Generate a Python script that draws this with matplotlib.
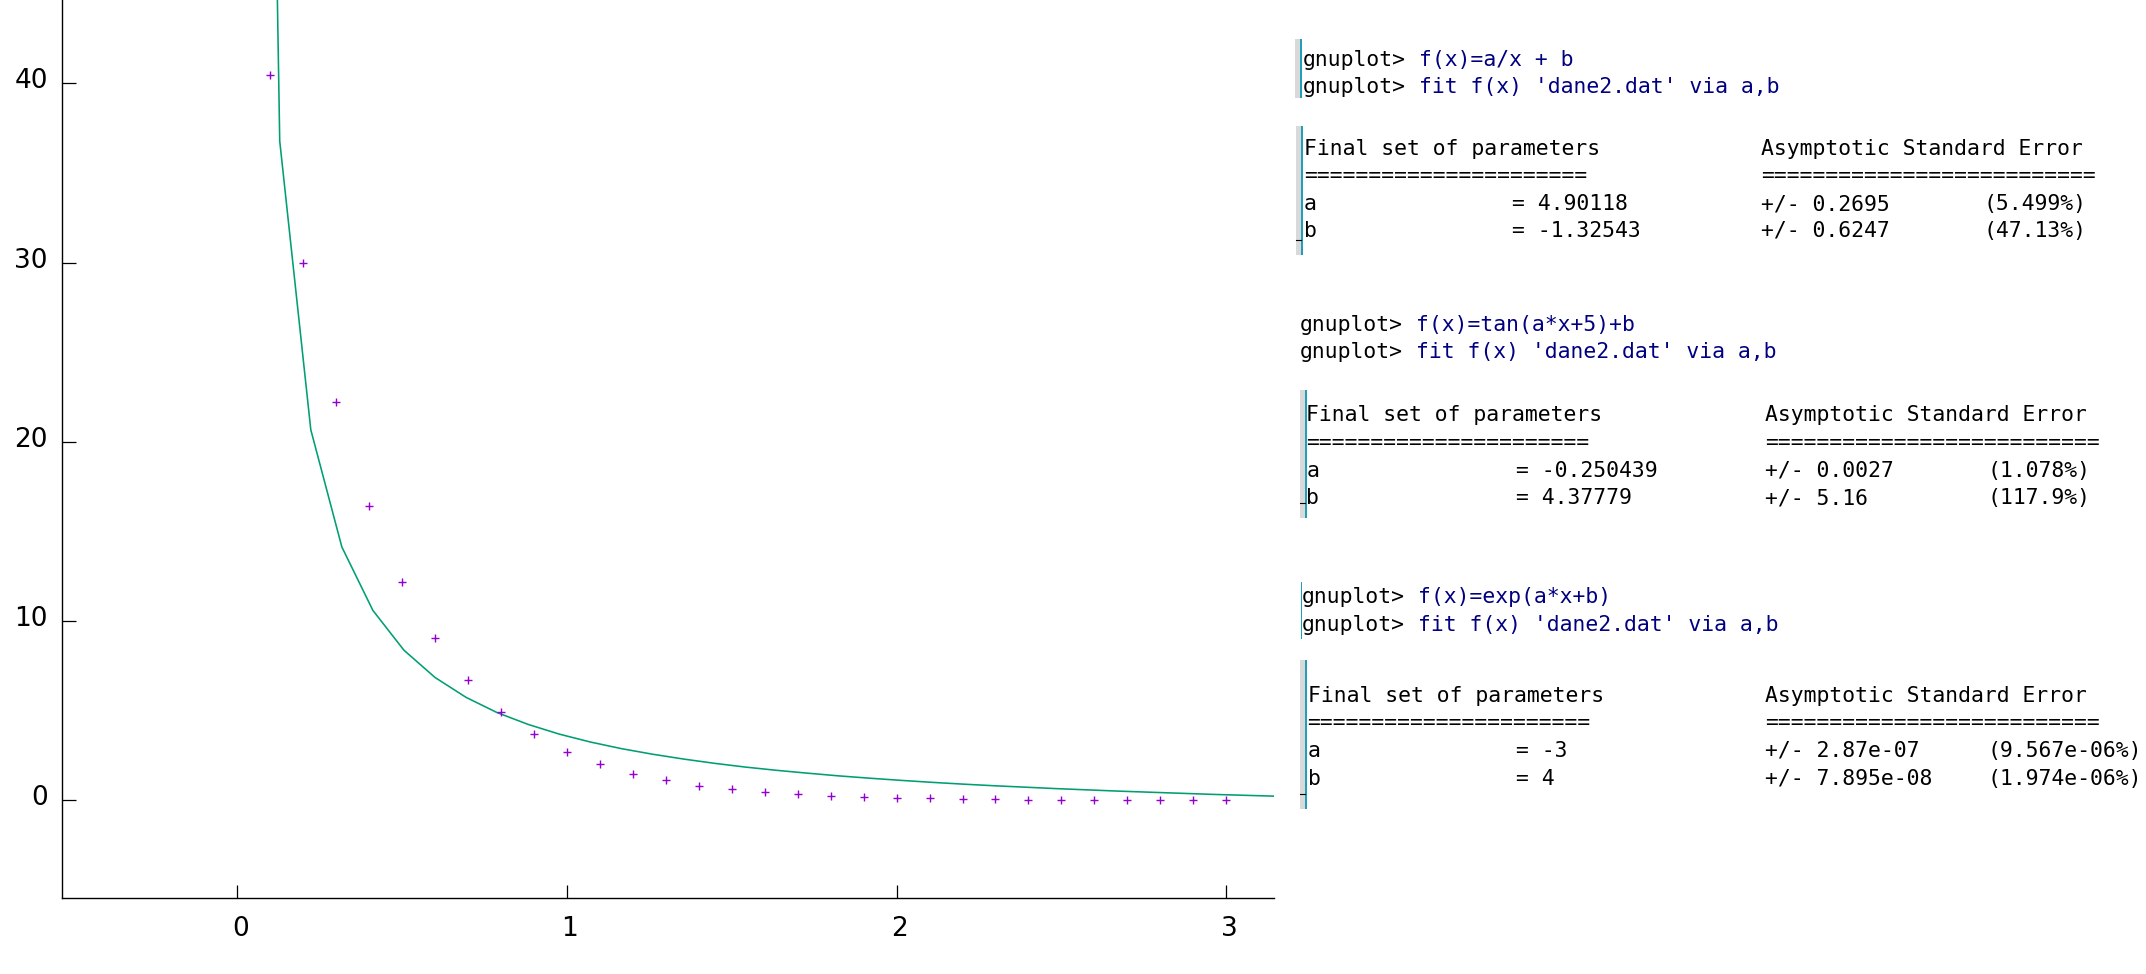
import matplotlib
matplotlib.use("Agg")
import matplotlib.pyplot as plt
from matplotlib.patches import Rectangle
import matplotlib.transforms as mtransforms

# ---------------- data ----------------
data_x = [0.1, 0.2, 0.3, 0.4, 0.5, 0.6, 0.7, 0.8, 0.9, 1.0,
          1.1, 1.2, 1.3, 1.4, 1.5, 1.6, 1.7, 1.8, 1.9, 2.0,
          2.1, 2.2, 2.3, 2.4, 2.5, 2.6, 2.7, 2.8, 2.9, 3.0]
data_y = [40.45, 29.96, 22.20, 16.44, 12.18, 9.03, 6.69, 4.95, 3.67, 2.72,
          2.01, 1.49, 1.11, 0.82, 0.61, 0.45, 0.33, 0.25, 0.18, 0.14,
          0.10, 0.07, 0.06, 0.04, 0.03, 0.02, 0.02, 0.01, 0.01, 0.01]

# sampled fit curve f(x)=a/x+b as drawn (piecewise linear)
fit_x = [0.0344, 0.1286, 0.2229, 0.3171, 0.4113, 0.5055, 0.5998, 0.6940,
         0.7882, 0.8825, 0.9767, 1.0709, 1.1652, 1.2594, 1.3536, 1.4478,
         1.5421, 1.6363, 1.7305, 1.8248, 1.9190, 2.0132, 2.1075, 2.2017,
         2.2959, 2.3901, 2.4844, 2.5786, 2.6728, 2.7671, 2.8613, 2.9555,
         3.0498, 3.1440]
fit_y = [141.19, 36.78, 20.67, 14.13, 10.59, 8.37, 6.85, 5.74,
         4.89, 4.23, 3.69, 3.25, 2.88, 2.57, 2.30, 2.06,
         1.85, 1.67, 1.51, 1.36, 1.23, 1.11, 1.00, 0.90,
         0.81, 0.73, 0.65, 0.58, 0.51, 0.45, 0.39, 0.33,
         0.28, 0.23]

x_ticks = [0, 1, 2, 3]
y_ticks = [0, 10, 20, 30, 40]

# text blocks shown on the right
blocks = [
    {"cmds": ["f(x)=a/x + b", "fit f(x) 'dane2.dat' via a,b"],
     "rows": [("a", "= 4.90118", "+/- 0.2695", "(5.499%)"),
              ("b", "= -1.32543", "+/- 0.6247", "(47.13%)")]},
    {"cmds": ["f(x)=tan(a*x+5)+b", "fit f(x) 'dane2.dat' via a,b"],
     "rows": [("a", "= -0.250439", "+/- 0.0027", "(1.078%)"),
              ("b", "= 4.37779", "+/- 5.16", "(117.9%)")]},
    {"cmds": ["f(x)=exp(a*x+b)", "fit f(x) 'dane2.dat' via a,b"],
     "rows": [("a", "= -3", "+/- 2.87e-07", "(9.567e-06%)"),
              ("b", "= 4", "+/- 7.895e-08", "(1.974e-06%)")]},
]

# ---------------- layout ----------------
W, H = 2146, 974
DPI = 100
fig = plt.figure(figsize=(W / DPI, H / DPI), dpi=DPI)
fig.patch.set_facecolor("white")

ax_l, ax_r, ax_b, ax_t = 62.3, 1273.7, 898.3, 0.0
ax = fig.add_axes([ax_l / W, 1 - ax_b / H, (ax_r - ax_l) / W, (ax_b - ax_t) / H])
ax.set_xlim(-0.531, 3.144)
ax.set_ylim(-5.47, 44.65)

ax.plot(fit_x, fit_y, color="#009e73", lw=1.15, zorder=2)
ax.plot(data_x, data_y, linestyle="none", marker="+", ms=6, mew=1.0,
        color="#9400d3", zorder=3)

for s in ("top", "right"):
    ax.spines[s].set_visible(False)
for s in ("left", "bottom"):
    ax.spines[s].set_linewidth(1.0)
    ax.spines[s].set_color("black")

ax.set_xticks(x_ticks)
ax.set_yticks(y_ticks)
ax.set_xticklabels([str(v) for v in x_ticks])
ax.set_yticklabels([str(v) for v in y_ticks])
ax.tick_params(axis="y", direction="in", length=10, width=0.9, pad=10.5,
               labelsize=19)
ax.tick_params(axis="x", direction="in", length=9.5, width=0.9, pad=12.5,
               labelsize=19)
for lab in ax.get_yticklabels():
    lab.set_transform(lab.get_transform() +
                      mtransforms.ScaledTranslation(0, 5 / DPI, fig.dpi_scale_trans))
for lab in ax.get_xticklabels():
    lab.set_transform(lab.get_transform() +
                      mtransforms.ScaledTranslation(3 / DPI, 0, fig.dpi_scale_trans))

# ---------------- text panel ----------------
MONO = "DejaVu Sans Mono"
FS = 15.4
NAVY = "#000080"
TEAL = "#1f9fb8"
GRAY = "#d9d9d9"


def ptext(x, y, s, color="black"):
    fig.text(x / W, 1 - y / H, s, fontsize=FS, family=MONO, color=color,
             ha="left", va="baseline")


def bar(x, y0, y1, gray=True, w_teal=2.2):
    if gray:
        fig.add_artist(Rectangle(((x - 5) / W, 1 - y1 / H), 5 / W, (y1 - y0) / H,
                                 transform=fig.transFigure, facecolor=GRAY,
                                 edgecolor="none"))
    fig.add_artist(Rectangle((x / W, 1 - y1 / H), w_teal / W, (y1 - y0) / H,
                             transform=fig.transFigure, facecolor=TEAL,
                             edgecolor="none"))


# geometry for each block (pixel positions)
geo = [
    {"cx": 1303, "cy": [66, 93], "ox": 1304, "hy": 155, "ey": 182, "ry": [210, 237],
     "cols": [1512, 1761, 1984], "cbar": (1300, 39, 98, True),
     "obar": (1301, 126, 255)},
    {"cx": 1300, "cy": [331, 358], "ox": 1306.5, "hy": 421, "ey": 449, "ry": [477, 504],
     "cols": [1516, 1765, 1987], "cbar": None,
     "obar": (1305, 390, 518)},
    {"cx": 1302, "cy": [603, 631], "ox": 1307.6, "hy": 702, "ey": 729, "ry": [757, 785],
     "cols": [1516, 1765, 1988], "cbar": (1300.5, 582, 639, False),
     "obar": (1305, 660, 809)},
]

for blk, g in zip(blocks, geo):
    for cmd, y in zip(blk["cmds"], g["cy"]):
        ptext(g["cx"], y, "gnuplot>")
        ptext(g["cx"] + 116, y, cmd, color=NAVY)
    ptext(g["ox"], g["hy"], "Final set of parameters")
    ptext(g["cols"][1], g["hy"], "Asymptotic Standard Error")
    ptext(g["ox"], g["ey"], "=" * 22)
    ptext(g["cols"][1], g["ey"], "=" * 26)
    for row, y in zip(blk["rows"], g["ry"]):
        ptext(g["ox"], y, row[0])
        ptext(g["cols"][0], y, row[1])
        ptext(g["cols"][1], y, row[2])
        ptext(g["cols"][2], y, row[3])
    if g["cbar"] is not None:
        x, y0, y1, gr = g["cbar"]
        bar(x, y0, y1, gray=gr, w_teal=2.2 if gr else 1.5)
    x, y0, y1 = g["obar"]
    bar(x, y0, y1, gray=True)
    # small dark tick near the bottom of the output bar
    fig.add_artist(plt.Line2D([(x - 5) / W, x / W], [1 - (y1 - 15) / H] * 2,
                              transform=fig.transFigure, color="black", lw=0.8))

fig.savefig("out.png", dpi=DPI, facecolor="white")
